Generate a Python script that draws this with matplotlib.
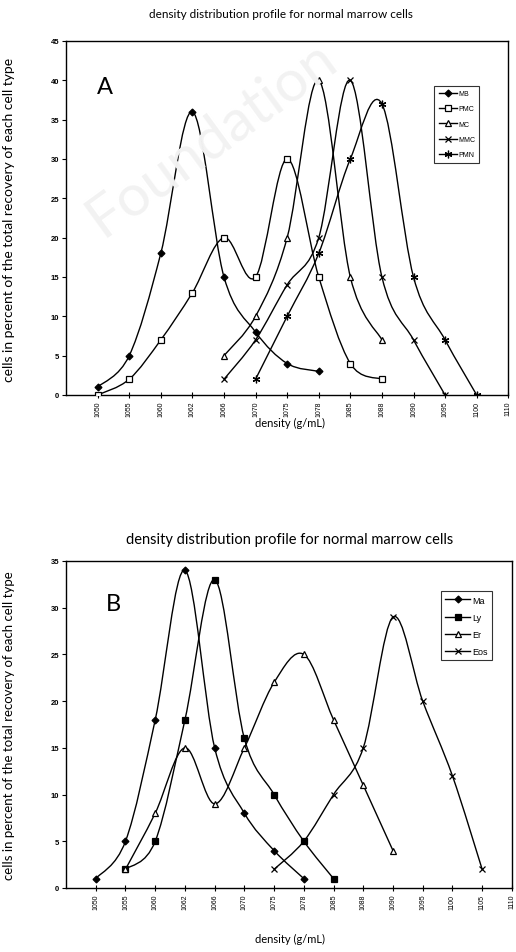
import numpy as np
import matplotlib
matplotlib.use("Agg")
import matplotlib.pyplot as plt
from matplotlib.path import Path
from matplotlib.patches import PathPatch
from matplotlib.lines import Line2D

# ---------------- data ----------------
cats_a = ["1050", "1055", "1060", "1062", "1066", "1070", "1075", "1078",
          "1085", "1088", "1090", "1095", "1100", "1110"]
mb_x = ["1050", "1055", "1060", "1062", "1066", "1070", "1075", "1078"]
mb_y = [1, 5, 18, 36, 15, 8, 4, 3]
pmc_x = ["1050", "1055", "1060", "1062", "1066", "1070", "1075", "1078", "1085", "1088"]
pmc_y = [0, 2, 7, 13, 20, 15, 30, 15, 4, 2]
mc_x = ["1066", "1070", "1075", "1078", "1085", "1088"]
mc_y = [5, 10, 20, 40, 15, 7]
mmc_x = ["1066", "1070", "1075", "1078", "1085", "1088", "1090", "1095"]
mmc_y = [2, 7, 14, 20, 40, 15, 7, 0]
pmn_x = ["1070", "1075", "1078", "1085", "1088", "1090", "1095", "1100"]
pmn_y = [2, 10, 18, 30, 37, 15, 7, 0]

cats_b = ["1050", "1055", "1060", "1062", "1066", "1070", "1075", "1078",
          "1085", "1088", "1090", "1095", "1100", "1105", "1110"]
ma_x = ["1050", "1055", "1060", "1062", "1066", "1070", "1075", "1078"]
ma_y = [1, 5, 18, 34, 15, 8, 4, 1]
ly_x = ["1055", "1060", "1062", "1066", "1070", "1075", "1078", "1085"]
ly_y = [2, 5, 18, 33, 16, 10, 5, 1]
er_x = ["1055", "1060", "1062", "1066", "1070", "1075", "1078", "1085", "1088", "1090"]
er_y = [2, 8, 15, 9, 15, 22, 25, 18, 11, 4]
eos_x = ["1075", "1078", "1085", "1088", "1090", "1095", "1100", "1105"]
eos_y = [2, 5, 10, 15, 29, 20, 12, 2]

title = "density distribution profile for normal marrow cells"
xlabel = "density (g/mL)"
ylabel = "cells in percent of the total recovery of each cell type"

# ---------------- helpers ----------------
def smooth_path(xs, ys):
    """Excel-like smoothed line (Catmull-Rom as cubic Bezier) through the points."""
    p = np.column_stack([xs, ys]).astype(float)
    n = len(p)
    verts = [p[0]]
    codes = [Path.MOVETO]
    for i in range(n - 1):
        p0 = p[i - 1] if i > 0 else p[i]
        p1 = p[i]
        p2 = p[i + 1]
        p3 = p[i + 2] if i + 2 < n else p[i + 1]
        c1 = p1 + (p2 - p0) / 6.0
        c2 = p2 - (p3 - p1) / 6.0
        verts += [c1, c2, p2]
        codes += [Path.CURVE4] * 3
    return Path(verts, codes)


def draw_series(ax, cats, xs_lab, ys, marker, face, ms):
    xs = [cats.index(v) for v in xs_lab]
    ax.add_patch(PathPatch(smooth_path(xs, ys), fill=False, edgecolor="black",
                           lw=1.0, transform=ax.transData, zorder=2))
    ax.plot(xs, ys, linestyle="none", marker=marker, markersize=ms,
            markerfacecolor=face, markeredgecolor="black", markeredgewidth=0.9,
            zorder=3)
    return Line2D([], [], color="black", lw=1.0, marker=marker, markersize=ms,
                  markerfacecolor=face, markeredgecolor="black",
                  markeredgewidth=0.9)


def style_axes(ax, cats, ymax):
    ax.set_xlim(-1, len(cats) - 1)
    ax.set_ylim(0, ymax)
    ax.set_xticks(range(len(cats)))
    ax.set_xticklabels(cats, rotation=90, fontsize=5,
                       family=["Liberation Sans", "DejaVu Sans"])
    ax.set_yticks(range(0, ymax + 1, 5))
    ax.set_yticklabels([str(v) for v in range(0, ymax + 1, 5)], fontsize=5.5,
                       fontweight="bold", family=["Liberation Sans", "DejaVu Sans"])
    ax.tick_params(axis="x", direction="inout", length=4, width=0.8, pad=2)
    ax.tick_params(axis="y", direction="out", length=3, width=0.8, pad=2)
    for s in ax.spines.values():
        s.set_linewidth(1.0)
        s.set_color("black")
    ax.set_facecolor("none")


lab_font = ["Lato", "DejaVu Sans"]

fig = plt.figure(figsize=(5.16, 9.53), dpi=100)
fig.patch.set_facecolor("white")

# watermark
fig.text(0.41, 0.855, "Foundation", rotation=36, fontsize=42, color="#f2f2f2",
         ha="center", va="center", family=lab_font, zorder=0)

# ---------------- panel A ----------------
axA = fig.add_axes([0.128, 0.5845, 0.857, 0.3715])
hA = [
    draw_series(axA, cats_a, mb_x, mb_y, "D", "black", 3.5),
    draw_series(axA, cats_a, pmc_x, pmc_y, "s", "white", 4),
    draw_series(axA, cats_a, mc_x, mc_y, "^", "white", 4),
    draw_series(axA, cats_a, mmc_x, mmc_y, "x", "none", 5),
    draw_series(axA, cats_a, pmn_x, pmn_y, (6, 2, 0), "none", 5.5),
]
style_axes(axA, cats_a, 45)
legA = axA.legend(hA, ["MB", "PMC", "MC", "MMC", "PMN"], loc="upper left",
                  bbox_to_anchor=(0.833, 0.873), frameon=True,
                  fancybox=False, edgecolor="black", handlelength=2.6,
                  handletextpad=0.2, borderpad=0.6, labelspacing=1.2,
                  borderaxespad=0, prop={"family": "Liberation Sans", "size": 5})
legA.get_frame().set_linewidth(0.8)
axA.text(0.07, 0.87, "A", transform=axA.transAxes, fontsize=17, family=lab_font,
         ha="left", va="center")
fig.text(0.545, 0.985, title, ha="center", va="center", fontsize=8.5, family=lab_font)
fig.text(0.562, 0.556, xlabel, ha="center", va="center", fontsize=8, family=lab_font)
fig.text(0.018, 0.769, ylabel, ha="center", va="center", rotation=90,
         fontsize=10, family=lab_font)

# ---------------- panel B ----------------
axB = fig.add_axes([0.128, 0.0672, 0.864, 0.3431])
hB = [
    draw_series(axB, cats_b, ma_x, ma_y, "D", "black", 3.5),
    draw_series(axB, cats_b, ly_x, ly_y, "s", "black", 4),
    draw_series(axB, cats_b, er_x, er_y, "^", "white", 4),
    draw_series(axB, cats_b, eos_x, eos_y, "x", "none", 5),
]
style_axes(axB, cats_b, 35)
legB = axB.legend(hB, ["Ma", "Ly", "Er", "Eos"], loc="upper left",
                  bbox_to_anchor=(0.84, 0.908), frameon=True,
                  fancybox=False, edgecolor="black", handlelength=2.8,
                  handletextpad=0.2, borderpad=0.5, labelspacing=0.9,
                  borderaxespad=0, prop={"family": "Liberation Sans", "size": 6.5})
legB.get_frame().set_linewidth(0.8)
axB.text(0.09, 0.87, "B", transform=axB.transAxes, fontsize=17, family=lab_font,
         ha="left", va="center")
fig.text(0.562, 0.433, title, ha="center", va="center", fontsize=10.5, family=lab_font)
fig.text(0.562, 0.014, xlabel, ha="center", va="center", fontsize=8, family=lab_font)
fig.text(0.018, 0.239, ylabel, ha="center", va="center", rotation=90,
         fontsize=9.5, family=lab_font)

fig.savefig("out.png", dpi=100, facecolor="white")
